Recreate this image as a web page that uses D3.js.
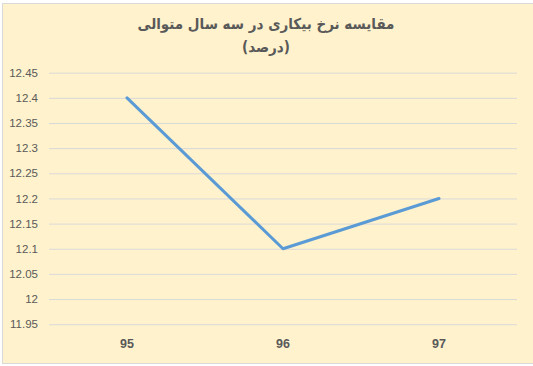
<!DOCTYPE html>
<html>
<head>
<meta charset="utf-8">
<script src="https://d3js.org/d3.v7.min.js"></script>
<style>
  body { margin: 0; background: #fff; }
</style>
</head>
<body>
<div id="output"></div>
<script>
    var width = 533;
    var height = 366;

    var titleLines = ['مقایسه نرخ بیکاری در سه سال متوالی', '(درصد)'];
    var years = ['95', '96', '97'];
    var rates = [12.4, 12.1, 12.2];
    var yTicks = [11.95, 12, 12.05, 12.1, 12.15, 12.2, 12.25, 12.3, 12.35, 12.4, 12.45];

    var bg_color = '#fff2cc';
    var grid_color = '#d9d9d9';
    var line_color = '#5b9bd5';
    var text_color = '#595959';

    var plot = {left: 49, right: 517, top: 72.7, bottom: 324.2};

    var svg = d3.select('#output').append('svg')
        .attr('width', width)
        .attr('height', height);

    // chart background + border
    svg.append('rect')
        .attr('x', 2.5).attr('y', 3.5)
        .attr('width', 540).attr('height', 360)
        .attr('fill', bg_color)
        .attr('stroke', grid_color)
        .attr('stroke-width', 1);

    var x = d3.scaleBand().domain(years).range([plot.left, plot.right]);
    var y = d3.scaleLinear().domain([11.95, 12.45]).range([plot.bottom, plot.top]);

    // gridlines + y labels
    var yAxis = d3.axisLeft(y)
        .tickValues(yTicks)
        .tickSize(-(plot.right - plot.left))
        .tickPadding(11)
        .tickFormat(d => d3.format('')(+d.toFixed(2)));

    var gy = svg.append('g')
        .attr('transform', 'translate(' + plot.left + ',0)')
        .call(yAxis);
    gy.select('.domain').remove();
    gy.selectAll('.tick line').attr('stroke', grid_color).attr('stroke-width', 1);
    gy.selectAll('.tick text')
        .attr('fill', text_color)
        .attr('font-family', 'Liberation Sans, Arial, sans-serif')
        .attr('font-size', 11.5);

    // x labels
    var xAxis = d3.axisBottom(x).tickSize(0).tickPadding(15);
    var gx = svg.append('g')
        .attr('transform', 'translate(0,' + plot.bottom + ')')
        .call(xAxis);
    gx.select('.domain').remove();
    gx.selectAll('.tick text')
        .attr('fill', text_color)
        .attr('font-family', 'Liberation Sans, Arial, sans-serif')
        .attr('font-weight', 'bold')
        .attr('font-size', 12.5);

    // line
    var line = d3.line()
        .x((d, i) => x(years[i]) + x.bandwidth() / 2)
        .y(d => y(d));

    svg.append('path')
        .datum(rates)
        .attr('d', line)
        .attr('fill', 'none')
        .attr('stroke', line_color)
        .attr('stroke-width', 3)
        .attr('stroke-linejoin', 'round')
        .attr('stroke-linecap', 'round');

    // title
    svg.append('g').selectAll('text')
        .data(titleLines)
        .join('text')
        .attr('x', 266)
        .attr('y', (d, i) => 29 + i * 23)
        .attr('text-anchor', 'middle')
        .attr('direction', 'rtl')
        .attr('fill', text_color)
        .attr('font-family', 'DejaVu Sans Condensed, DejaVu Sans, sans-serif')
        .attr('font-weight', 'bold')
        .attr('font-size', 15)
        .text(d => d);
</script>
</body>
</html>
